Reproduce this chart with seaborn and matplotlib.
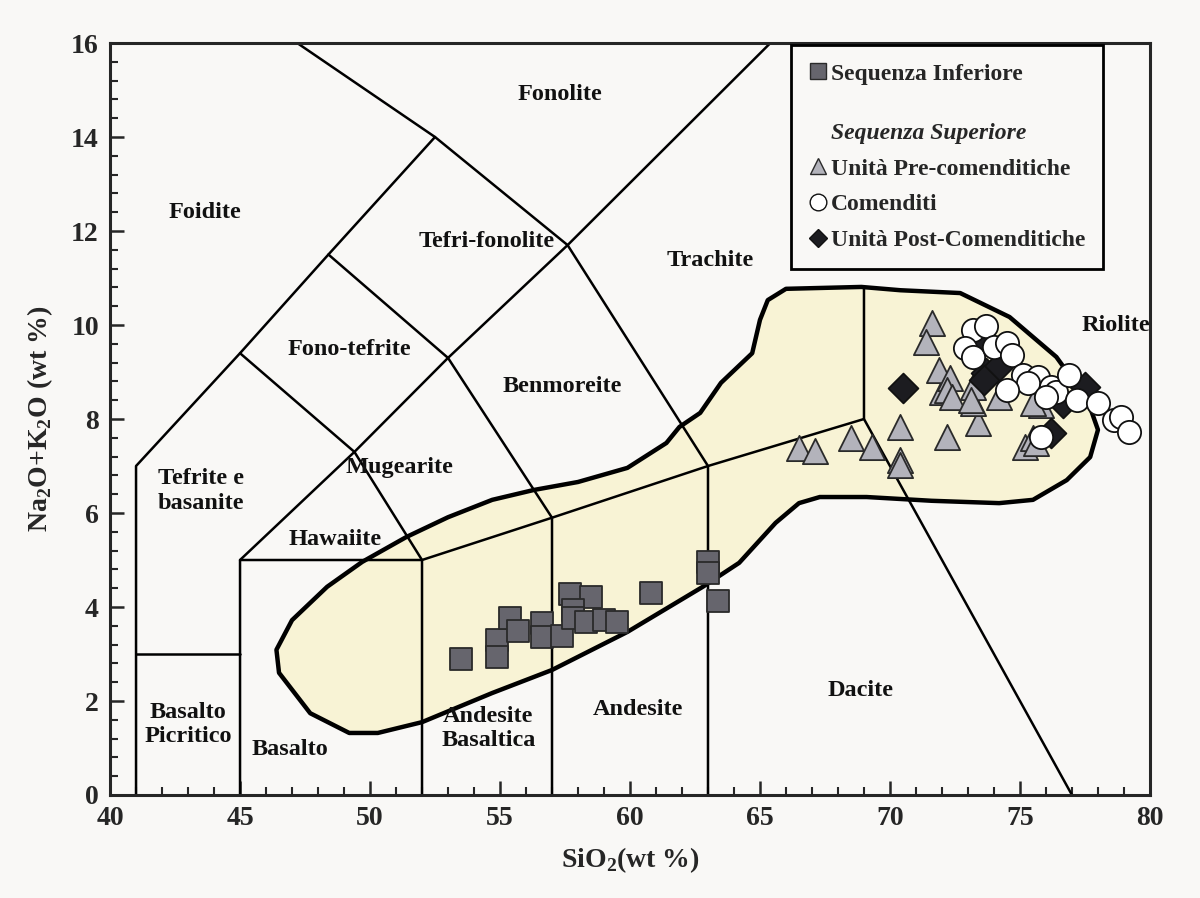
import matplotlib.pyplot as plt
import pandas as pd
import seaborn as sns
from matplotlib.lines import Line2D
from matplotlib.patches import Polygon

# Sequenza Inferiore (SiO2, Na2O+K2O)
inf_sio2 = [53.5, 54.9, 54.9, 55.4, 55.7, 56.6, 56.6, 57.4, 57.7, 58.5, 57.8, 57.8,
            58.3, 59.0, 59.5, 60.8, 63.0, 63.0, 63.4]
inf_alk = [2.89, 3.30, 2.94, 3.77, 3.49, 3.66, 3.36, 3.38, 4.28, 4.21, 3.94, 3.77,
           3.68, 3.72, 3.68, 4.30, 4.96, 4.72, 4.13]

# Unita Pre-comenditiche
pre_sio2 = [66.5, 67.1, 68.5, 69.3, 70.4, 70.4, 70.4, 72.2, 73.4, 73.2, 72.0, 75.2,
            75.5, 75.8, 71.6, 71.4, 71.9, 72.3, 72.2, 72.4, 73.2, 73.1, 74.2, 75.5, 75.6]
pre_alk = [7.38, 7.32, 7.60, 7.40, 7.83, 7.13, 7.02, 7.62, 7.91, 8.34, 8.57, 7.40,
           7.60, 8.30, 10.04, 9.64, 9.04, 8.87, 8.62, 8.47, 8.68, 8.40, 8.47, 8.34, 7.49]

# Comenditi
com_sio2 = [73.2, 73.7, 72.9, 73.2, 74.0, 74.5, 74.7, 75.1, 75.7, 75.3, 74.5, 76.2,
            76.4, 76.9, 76.0, 77.2, 78.0, 78.6, 78.9, 79.2, 75.8]
com_alk = [9.89, 9.98, 9.51, 9.32, 9.53, 9.62, 9.36, 8.94, 8.89, 8.77, 8.62, 8.68,
           8.57, 8.94, 8.47, 8.40, 8.34, 7.98, 8.04, 7.72, 7.62]

# Unita Post-Comenditiche
post_sio2 = [70.5, 73.35, 73.7, 74.1, 73.6, 76.65, 77.5, 76.2]
post_alk = [8.66, 9.68, 8.98, 9.09, 8.83, 8.34, 8.68, 7.70]

# TAS boundaries (Le Bas et al.)
tas_lines = [
    [(41, 0), (41, 7), (45, 9.4), (48.4, 11.5), (52.5, 14), (47.2, 16)],
    [(41, 3), (45, 3)],
    [(45, 0), (45, 5), (49.4, 7.3), (53, 9.3), (57.6, 11.7), (65.4, 16)],
    [(45, 5), (52, 5), (57, 5.9), (63, 7), (69, 8)],
    [(52, 0), (52, 5), (49.4, 7.3), (45, 9.4)],
    [(57, 0), (57, 5.9), (53, 9.3), (48.4, 11.5)],
    [(63, 0), (63, 7), (57.6, 11.7), (52.5, 14)],
    [(69, 10.8), (69, 8), (77, 0)],
]

# field of the samples
field_x = [46.4, 47.0, 48.35, 49.7, 51.4, 53.0, 54.7, 56.3, 58.0, 59.9, 61.4, 61.9, 62.7,
           63.5, 64.7, 65.0, 65.3, 66.0, 68.9, 70.4, 72.7, 74.6, 76.4, 77.6, 78.0, 77.7,
           76.8, 75.5, 74.2, 71.6, 69.1, 67.3, 66.5, 65.6, 64.2, 62.8, 59.9, 57.0, 54.7,
           52.0, 50.3, 49.2, 47.7, 46.5]
field_y = [3.09, 3.72, 4.43, 4.96, 5.49, 5.91, 6.28, 6.49, 6.66, 6.96, 7.49, 7.83, 8.13,
           8.77, 9.40, 10.11, 10.53, 10.77, 10.81, 10.74, 10.68, 10.17, 9.32, 8.40, 7.77,
           7.19, 6.70, 6.28, 6.21, 6.26, 6.34, 6.34, 6.21, 5.79, 4.94, 4.43, 3.47, 2.66,
           2.17, 1.55, 1.32, 1.32, 1.74, 2.60]

rock_names = ['Fonolite', 'Foidite', 'Tefri-fonolite', 'Fono-tefrite', 'Trachite',
              'Benmoreite', 'Riolite', 'Mugearite', 'Tefrite e\nbasanite', 'Hawaiite',
              'Dacite', 'Andesite', 'Andesite\nBasaltica', 'Basalto', 'Basalto\nPicritico']
rock_x = [57.3, 43.65, 54.5, 49.2, 63.1, 57.4, 78.7, 51.15, 43.5, 48.65, 68.85, 60.3,
          54.55, 46.9, 43.0]
rock_y = [14.9, 12.4, 11.77, 9.47, 11.38, 8.7, 10.0, 6.96, 6.47, 5.43, 2.23, 1.81,
          1.42, 0.96, 1.5]

bg = '#f9f8f6'
sns.set_style('ticks')
plt.rcParams['font.family'] = ['Liberation Serif', 'DejaVu Serif']
plt.rcParams['font.weight'] = 'bold'
plt.rcParams['mathtext.fontset'] = 'custom'
plt.rcParams['mathtext.rm'] = 'Liberation Serif:bold'
plt.rcParams['mathtext.bf'] = 'Liberation Serif:bold'

fig = plt.figure(figsize=(12, 8.98), dpi=100, facecolor=bg)
ax = fig.add_axes([0.0917, 0.1147, 0.8666, 0.8374])
ax.set_facecolor(bg)

ax.add_patch(Polygon(list(zip(field_x, field_y)), closed=True, facecolor='#f8f3d5',
                     edgecolor='black', linewidth=3.2, joinstyle='round', zorder=1))

for seg in tas_lines:
    xs, ys = zip(*seg)
    ax.plot(xs, ys, color='black', linewidth=1.8, zorder=2)

for name, x, y in zip(rock_names, rock_x, rock_y):
    ax.text(x, y, name, ha='center', va='center', fontsize=17.5, fontweight='bold',
            color='#111111', linespacing=1.2, zorder=3)

groups = [
    ('Sequenza Inferiore', inf_sio2, inf_alk, 's', '#66656d', '#2a2a2a', 240),
    ('Unità Pre-comenditiche', pre_sio2, pre_alk, '^', '#b3b3bb', '#2a2a2a', 330),
    ('Unità Post-Comenditiche', post_sio2, post_alk, 'D', '#1c1c20', '#111111', 230),
    ('Comenditi', com_sio2, com_alk, 'o', 'white', '#111111', 280),
]
handles = {}
for z, (lab, xs, ys, mk, fc, ec, s) in enumerate(groups):
    df = pd.DataFrame({'SiO2': xs, 'alk': ys})
    sns.scatterplot(data=df, x='SiO2', y='alk', marker=mk, color=fc, edgecolor=ec,
                    linewidth=1.3, s=s, ax=ax, zorder=4 + z)
    handles[lab] = Line2D([], [], linestyle='none', marker=mk, markerfacecolor=fc,
                          markeredgecolor=ec, markeredgewidth=1.0,
                          markersize=12 if mk != 'D' else 9.5)

blank = Line2D([], [], linestyle='none')
order = ['Sequenza Inferiore', None, 'Unità Pre-comenditiche', 'Comenditi',
         'Unità Post-Comenditiche']
leg = ax.legend([handles[k] if k else blank for k in order],
                [k if k else '\nSequenza Superiore' for k in order],
                loc='upper right', bbox_to_anchor=(0.955, 0.997), fontsize=17,
                frameon=True, fancybox=False, edgecolor='black', facecolor=bg,
                framealpha=1, handletextpad=0.15, handlelength=0.8, labelspacing=0.6,
                borderpad=0.75, borderaxespad=0)
leg.get_frame().set_linewidth(2)
leg.set_zorder(10)
leg.get_texts()[1].set_fontstyle('italic')

ax.set_xlim(40, 80)
ax.set_ylim(0, 16)
ax.set_xticks(range(40, 81, 5))
ax.set_yticks(range(0, 17, 2))
ax.set_xticks(range(40, 81), minor=True)
ax.set_yticks([i * 0.4 for i in range(41)], minor=True)
ax.tick_params(which='major', direction='in', length=10, width=1.8, labelsize=20,
               pad=8)
ax.tick_params(which='minor', direction='in', length=6, width=1.5)
for sp in ax.spines.values():
    sp.set_linewidth(2.2)
ax.set_xlabel(r'SiO$_\mathbf{2}$(wt %)', fontsize=20, fontweight='bold', labelpad=10)
ax.set_ylabel(r'Na$_\mathbf{2}$O+K$_\mathbf{2}$O (wt %)', fontsize=20,
              fontweight='bold', labelpad=12)

fig.savefig('out.png', dpi=100, facecolor=bg)
